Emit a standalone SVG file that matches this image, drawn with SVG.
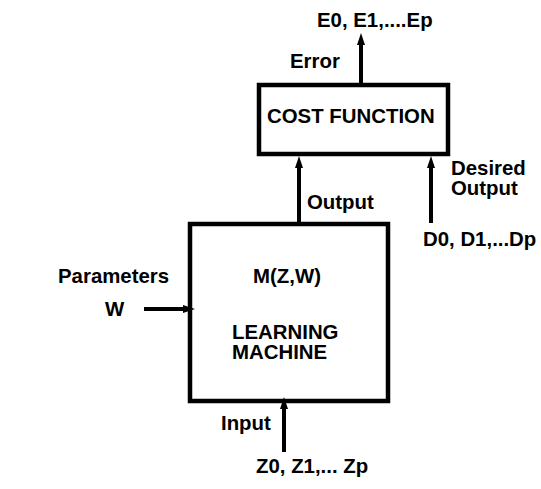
<svg xmlns="http://www.w3.org/2000/svg" width="541" height="489" viewBox="0 0 541 489">
<style>
text{font-family:"Liberation Sans",Arial,sans-serif;font-weight:bold;font-size:20.4px;fill:#000}
.box{fill:#fff;stroke:#000;stroke-width:4.5}
.conn{stroke:#000;stroke-width:4;fill:none;marker-end:url(#ah)}
</style>
<defs>
<marker id="ah" markerUnits="userSpaceOnUse" viewBox="0 -4 12 8" refX="0" refY="0" markerWidth="12" markerHeight="8" orient="auto" overflow="visible">
<path d="M0,-4 L12,0 L0,4 z" fill="#000"/>
</marker>
</defs>
<rect width="541" height="489" fill="#fff"/>
<g id="cost-function">
<rect class="box" x="259" y="85" width="189" height="69"/>
<text x="267" y="123">COST FUNCTION</text>
</g>
<g id="learning-machine">
<rect class="box" x="190" y="224" width="198" height="177"/>
<text x="253" y="283">M(Z,W)</text>
<text x="232" y="339">LEARNING</text>
<text x="232" y="359">MACHINE</text>
</g>
<g id="connectors">
<path class="conn" d="M361,83 L361,45"/>
<path class="conn" d="M299,224 L299,168"/>
<path class="conn" d="M431,223 L431,168"/>
<path class="conn" d="M144,309 L183,309"/>
<path class="conn" d="M284,452 L284,409"/>
</g>
<g id="labels">
<text x="317" y="27">E0, E1,....Ep</text>
<text x="290" y="68">Error</text>
<text x="307" y="209">Output</text>
<text x="451" y="175">Desired</text>
<text x="451" y="195">Output</text>
<text x="423" y="246">D0, D1,...Dp</text>
<text x="58" y="283">Parameters</text>
<text x="105" y="316">W</text>
<text x="221" y="430">Input</text>
<text x="256" y="473">Z0, Z1,... Zp</text>
</g>
</svg>
